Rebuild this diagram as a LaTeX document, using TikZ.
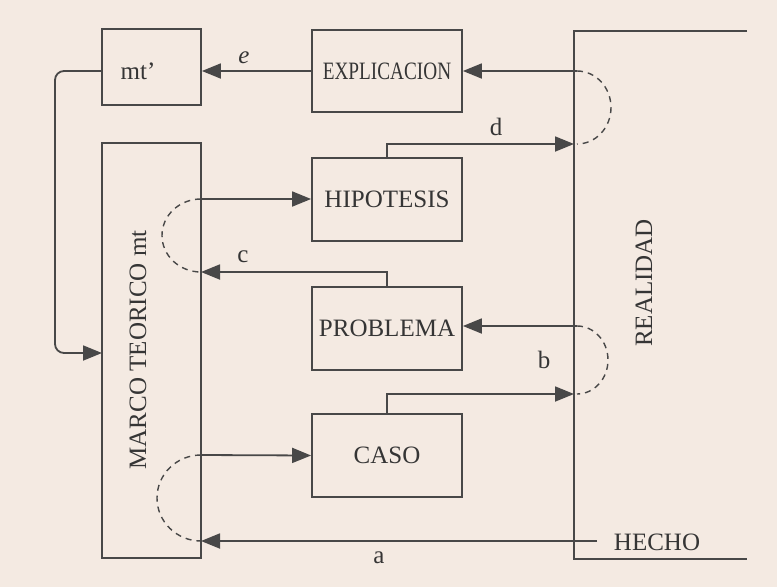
\documentclass[tikz,border=0pt]{standalone}
\usepackage{fontspec}
\setmainfont{Liberation Serif}
\usetikzlibrary{arrows.meta}
\definecolor{bgc}{HTML}{F4EAE2}
\definecolor{ink}{HTML}{484848}
\definecolor{txt}{HTML}{353535}
\begin{document}
\begin{tikzpicture}[x=1pt,y=-1pt,
  box/.style={draw=ink,line width=1.8pt,minimum width=150pt,minimum height=83pt,inner sep=0pt,text=txt,font=\fontsize{25}{30}\selectfont},
  lbl/.style={text=txt,inner sep=0pt,font=\fontsize{25}{30}\selectfont},
  conn/.style={draw=ink,line width=1.8pt},
  arr/.style={conn,-{Triangle[length=19pt,width=15pt]}},
  dsh/.style={draw=ink,line width=1.4pt,dash pattern=on 6pt off 5pt}]
\fill[bgc] (0,0) rectangle (777,587);
\useasboundingbox (0,0) rectangle (777,587);
% boxes
\node[box,minimum width=99pt,minimum height=76pt] (mtp) at (151.5,67) {};
\node[lbl] (mtptext) at (138,71) {mt'};
\node[box,minimum width=99pt,minimum height=415pt] (marco) at (151.5,350.5) {};
\node[lbl,rotate=90] (marcotext) at (138,350) {MARCO TEORICO mt};
\node[box,minimum height=82pt] (expl) at (387,71) {\scalebox{0.77}[1]{EXPLICACION}};
\node[box] (hip) at (387,199.5) {HIPOTESIS};
\node[box] (prob) at (387,328.5) {PROBLEMA};
\node[box] (caso) at (387,455.5) {CASO};
% realidad
\coordinate (rt) at (747,31);
\coordinate (rtl) at (574,31);
\coordinate (rbl) at (574,559);
\coordinate (rb) at (747,559);
\draw[conn] (rt) -- (rtl) -- (rbl) -- (rb);
\node[lbl,rotate=90] (real) at (644,283) {REALIDAD};
\node[lbl] (hecho) at (657,542) {HECHO};
% connection points
\coordinate (r1) at (577,71);
\coordinate (r2) at (574,144);
\coordinate (r3) at (577,326);
\coordinate (r4) at (574,394);
\coordinate (m1) at (201,199);
\coordinate (m2) at (201,272);
\coordinate (m3) at (201,455);
\coordinate (m4) at (201,541);
\coordinate (ha) at (597,541);
\coordinate (lp1) at (55,71);
\coordinate (lp2) at (55,353);
\coordinate (lp3) at (102,353);
% arrows
\draw[arr] (expl.west) -- (expl.west -| mtp.east);
\draw[arr] (r1) -- (expl.east);
\draw[arr] (hip.north) |- (r2);
\draw[arr] (m1) -- (m1 -| hip.west);
\draw[arr] (prob.north) |- (m2);
\draw[arr] (r3) -- (r3 -| prob.east);
\draw[arr] (caso.north) |- (r4);
\draw[arr] (m3) -- (caso.west);
\draw[arr] (ha) -- (m4);
\draw[arr,rounded corners=9pt] (mtp.west |- lp1) -- (lp1) -- (lp2) -- (lp3);
% dashed loops
\draw[dsh] (r1) arc[start angle=-90,end angle=90,x radius=34,y radius=36.5];
\draw[dsh] (r3) arc[start angle=-90,end angle=90,x radius=31,y radius=34];
\draw[dsh] (m1) arc[start angle=270,end angle=90,x radius=39,y radius=36.5];
\draw[dsh] (m3) arc[start angle=270,end angle=90,x radius=44,y radius=43];
% labels
\node[lbl] (le) at (244,58) {\textit{e}};
\node[lbl] (ld) at (496,127) {d};
\node[lbl] (lc) at (243,257) {c};
\node[lbl] (lb) at (544,360) {b};
\node[lbl] (la) at (379,558) {a};
\end{tikzpicture}
\end{document}
